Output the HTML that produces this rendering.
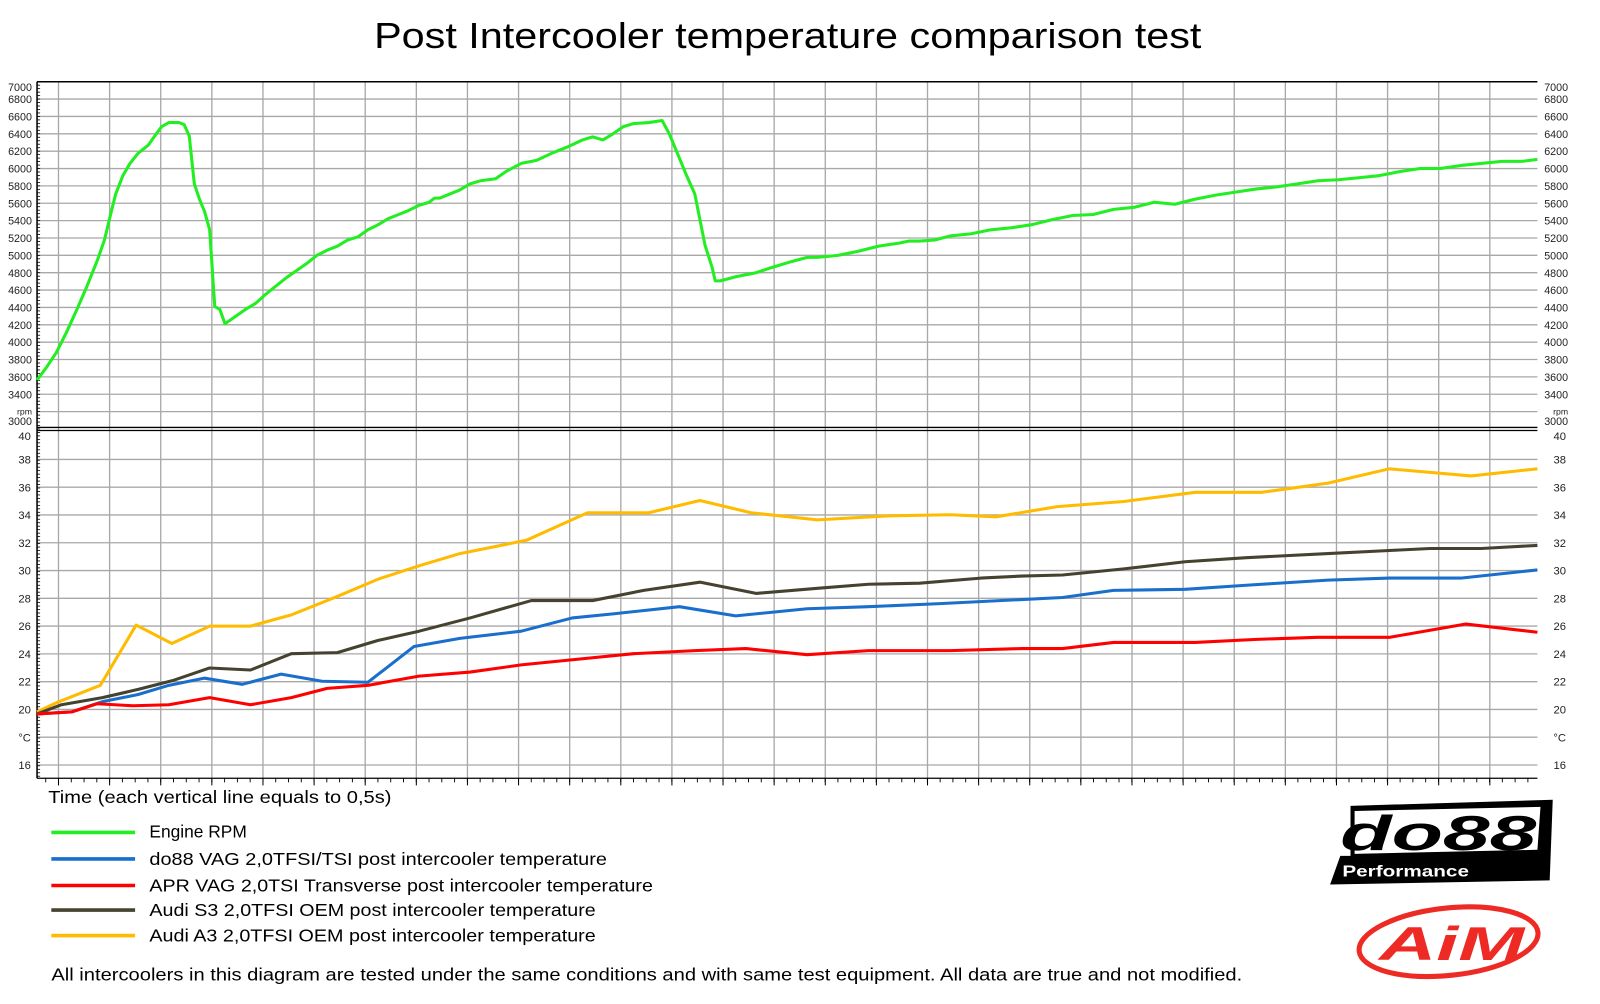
<!DOCTYPE html>
<html><head><meta charset="utf-8"><style>
html,body{margin:0;padding:0;background:#fff;}
svg{display:block;}
text{font-family:"Liberation Sans",sans-serif;}
</style></head><body>
<svg id="s" width="1600" height="1004" viewBox="0 0 1566 983" xmlns="http://www.w3.org/2000/svg">
<rect width="1566" height="983" fill="#fff"/>
<text x="771" y="47" font-size="35" text-anchor="middle" textLength="810" lengthAdjust="spacingAndGlyphs">Post Intercooler temperature comparison test</text>
<g id="grid"></g>
<g id="series" fill="none" stroke-width="3" stroke-linejoin="round">
<polyline stroke="#22ee22" points="36,372 45,360 55,345 65,325 75,303 85,280 95,255 102,235 108,210 113,190 120,172 127,160 135,150 145,142 152,132 158,124 165,120 175,120 180,122 185,133 190,180 195,195 200,207 205,225 210,300 215,303 220,317 230,310 240,303 250,297 260,288 270,280 280,272 290,265 300,258 310,250 320,245 330,241 340,235 350,232 360,225 370,220 380,214 390,210 400,206 410,201 420,198 425,194 430,194 440,190 450,186 460,180 470,177 485,175 495,168 510,160 525,157 540,150 555,144 570,137 580,134 590,137 600,131 610,124 620,121 635,120 648,118 655,131 665,155 672,172 680,190 685,215 690,240 697,262 700,275 705,275 720,271 740,267 755,262 775,256 790,252 800,252 820,250 840,246 860,241 880,238 890,236 900,236 915,235 930,231 950,229 970,225 990,223 1010,220 1030,215 1050,211 1070,210 1090,205 1110,203 1130,198 1150,200 1170,195 1190,191 1210,188 1230,185 1250,183 1270,180 1290,177 1310,176 1330,174 1350,172 1370,168 1390,165 1410,165 1430,162 1450,160 1470,158 1490,158 1505,156"/>
<polyline stroke="#ffbb00" points="36,697 55,688 98,671 133,612 168,630 205,613 245,613 285,602 330,584 370,567 410,554 450,542 515,529 575,502 635,502 685,490 735,502 800,509 870,505 930,504 975,506 1035,496 1100,491 1170,482 1235,482 1300,473 1360,459 1440,466 1505,459"/>
<polyline stroke="#45432f" points="36,699 60,690 100,683 135,675 170,666 205,654 245,656 285,640 330,639 370,627 410,618 460,605 520,588 580,588 630,578 685,570 740,581 800,576 850,572 900,571 960,566 1000,564 1040,563 1100,557 1160,550 1220,546 1300,542 1360,539 1400,537 1450,537 1505,534"/>
<polyline stroke="#1a6fcc" points="36,699 70,697 100,687 135,680 165,671 200,664 237,670 275,660 315,667 360,668 405,633 450,625 510,618 560,605 600,601 665,594 720,603 790,596 850,594 920,591 1000,587 1040,585 1090,578 1160,577 1220,573 1300,568 1360,566 1430,566 1505,558"/>
<polyline stroke="#ff0000" points="36,699 70,697 95,689 130,691 165,690 205,683 245,690 285,683 320,674 360,671 410,662 460,658 510,651 570,645 620,640 680,637 730,635 790,641 850,637 930,637 1000,635 1040,635 1090,629 1170,629 1230,626 1290,624 1360,624 1435,611 1505,619"/>
</g>
<g font-size="17" fill="#000">
<text x="47" y="786" textLength="336" lengthAdjust="spacingAndGlyphs">Time (each vertical line equals to 0,5s)</text>
<text x="146" y="820">Engine RPM</text>
<text x="146" y="847" textLength="448" lengthAdjust="spacingAndGlyphs">do88 VAG 2,0TFSI/TSI post intercooler temperature</text>
<text x="146" y="873" textLength="493" lengthAdjust="spacingAndGlyphs">APR VAG 2,0TSI Transverse post intercooler temperature</text>
<text x="146" y="897" textLength="437" lengthAdjust="spacingAndGlyphs">Audi S3 2,0TFSI OEM post intercooler temperature</text>
<text x="146" y="922" textLength="437" lengthAdjust="spacingAndGlyphs">Audi A3 2,0TFSI OEM post intercooler temperature</text>
<text x="50" y="960" textLength="1166" lengthAdjust="spacingAndGlyphs">All intercoolers in this diagram are tested under the same conditions and with same test equipment. All data are true and not modified.</text>
</g>
<g stroke-width="3.5">
<line x1="50" y1="815" x2="132" y2="815" stroke="#22ee22"/>
<line x1="50" y1="841" x2="132" y2="841" stroke="#1a6fcc"/>
<line x1="50" y1="867" x2="132" y2="867" stroke="#ff0000"/>
<line x1="50" y1="891" x2="132" y2="891" stroke="#45432f"/>
<line x1="50" y1="916" x2="132" y2="916" stroke="#ffbb00"/>
</g>
<!-- do88 logo -->
<polygon points="1322,789 1520,783 1517,862 1302,866 1312,838 1322,838" fill="#000"/>
<polygon points="1326,794 1508,790 1505,832 1326,836" fill="#fff"/>
<text x="1312" y="832" font-size="48" font-weight="bold" font-style="italic" fill="#000" textLength="192" lengthAdjust="spacingAndGlyphs">do88</text>
<text x="1314" y="858" font-size="15" font-weight="bold" fill="#fff" textLength="124" lengthAdjust="spacingAndGlyphs">Performance</text>
<!-- AiM logo -->
<ellipse cx="1418" cy="922" rx="88" ry="33" fill="none" stroke="#ee2a24" stroke-width="5" transform="rotate(-6 1418 922)"/>
<text x="1350" y="940" font-size="46" font-weight="bold" font-style="italic" fill="#ee2a24" textLength="142" lengthAdjust="spacingAndGlyphs">AiM</text>
</svg>
<script>
(function(){
var g=document.getElementById('grid'),h='';
var L=36,R=1505,T=80,D=420,B=762;
function ln(x1,y1,x2,y2,c,w){h+='<line x1="'+x1+'" y1="'+y1+'" x2="'+x2+'" y2="'+y2+'" stroke="'+c+'" stroke-width="'+w+'"/>';}
function tx(x,y,s,a,fs){h+='<text x="'+x+'" y="'+y+'" font-size="'+(fs||11)+'" text-anchor="'+a+'" fill="#222">'+s+'</text>';}
for(var x=57;x<R;x+=50.05){ln(x,T,x,B,'#a8a8a8',1.3);}
for(var r=6800;r>=3200;r-=200){var y=80+(7000-r)*0.085;ln(L,y,R,y,'#a8a8a8',1.3);}
for(var r=7000;r>=3000;r-=200){var y=80+(7000-r)*0.085;if(r==3200)continue;var yy=y+4;if(r==7000)yy=89;if(r==3000)yy=416;
 tx(31,yy,r,'end',10.5);tx(1535,yy,r,'end',10.5);}
tx(31,406,'rpm','end',8.5);tx(1535,406,'rpm','end',8.5);
for(var t=38;t>=16;t-=2){var y=749-(t-16)*13.6;ln(L,y,R,y,'#a8a8a8',1.3);}
for(var t=40;t>=16;t-=2){var y=749-(t-16)*13.6+4;if(t==40)y=431;var s=(t==18)?'\u00b0C':t;
 tx(30,y,s,'end',11);tx(1533,y,s,'end',11);}
ln(L,T,R,T,'#000',1.5);
ln(L,D-1.5,R,D-1.5,'#000',1.3);ln(L,D+1.5,R,D+1.5,'#000',1.3);
ln(L,T,L,B,'#000',1.5);ln(L,B,R,B,'#000',1.2);
for(var y=T;y<B;y+=3.4){ln(L,y,L+3,y,'#000',0.8);}
for(var x=L+8.5;x<R;x+=12.51){ln(x,B,x,B+4,'#000',0.9);}
for(var x=57;x<R;x+=50.05){ln(x,B,x,B+7,'#000',1);}
g.innerHTML=h;
})();
</script>
</body></html>
